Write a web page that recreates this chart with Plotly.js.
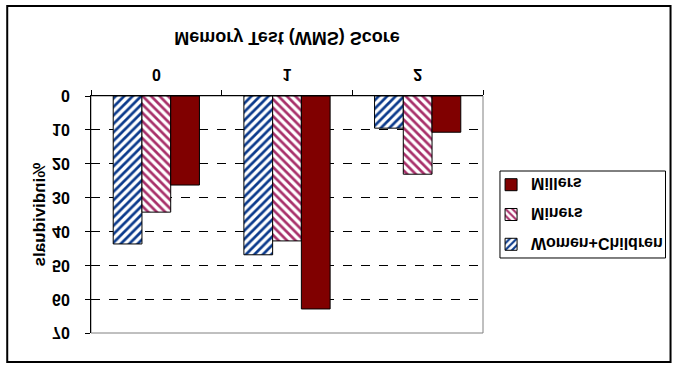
<!DOCTYPE html>
<html>
<head>
<meta charset="utf-8">
<script src="https://cdn.plot.ly/plotly-3.0.1.min.js"></script>
<style>
  html, body { margin: 0; padding: 0; background: #ffffff; }
  #chart { width: 679px; height: 370px; transform: scaleY(-1); transform-origin: 50% 50%; }
</style>
</head>
<body>
<div id="chart"></div>
<script>
// Data
const categories = ["0", "1", "2"];
const womenChildren = [43.7, 46.9, 9.5];
const miners = [34.3, 42.8, 23.1];
const millers = [26.3, 62.9, 10.7];
const seriesNames = ["Women+Children", "Miners", "Millers"];
const yTicks = [0, 10, 20, 30, 40, 50, 60, 70];

const FONT = "'Liberation Sans', Arial, sans-serif";

const traces = [
  {
    type: "bar", name: seriesNames[0], x: categories, y: womenChildren,
    legendgroup: "a",
    marker: {
      color: "#0b3a8c",
      line: { color: "#000000", width: 1 },
      pattern: { shape: "\\", fgcolor: "#0b3a8c", bgcolor: "#ffffff", fgopacity: 1, size: 6, solidity: 0.45, fillmode: "replace" }
    }
  },
  {
    type: "bar", name: seriesNames[1], x: categories, y: miners,
    legendgroup: "b",
    marker: {
      color: "#a8306a",
      line: { color: "#000000", width: 1 },
      pattern: { shape: "/", fgcolor: "#a8306a", bgcolor: "#ffffff", fgopacity: 1, size: 6, solidity: 0.45, fillmode: "replace" }
    }
  },
  {
    type: "bar", name: seriesNames[2], x: categories, y: millers,
    legendgroup: "c",
    marker: { color: "#800000", line: { color: "#000000", width: 1 } }
  }
];

const layout = {
  width: 679, height: 370,
  margin: { l: 91, r: 195, t: 37, b: 96, pad: 0 },
  paper_bgcolor: "#ffffff",
  plot_bgcolor: "#ffffff",
  font: { family: FONT, size: 16, color: "#000000", weight: "bold" },
  barmode: "group",
  bargap: 0.34,
  bargroupgap: 0,
  showlegend: true,
  legend: {
    x: 1.018,
    xanchor: "left",
    y: 0.697,
    yanchor: "top",
    traceorder: "grouped",
    tracegroupgap: 6,
    bgcolor: "rgba(0,0,0,0)",
    borderwidth: 0,
    font: { family: FONT, size: 16, color: "#000000", weight: "bold" }
  },
  xaxis: {
    type: "category",
    showgrid: false,
    zeroline: false,
    showline: true,
    linecolor: "#000000",
    linewidth: 1,
    ticks: "outside",
    tickson: "boundaries",
    ticklen: 5,
    tickcolor: "#000000",
    ticklabelstandoff: 7,
    tickfont: { family: FONT, size: 16, color: "#000000", weight: "bold" },
    title: { text: "Memory Test (WMS) Score", standoff: 22, font: { family: FONT, size: 18, color: "#000000", weight: "bold" } }
  },
  yaxis: {
    range: [0, 70],
    tickvals: yTicks,
    showgrid: true,
    gridcolor: "#000000",
    griddash: "dash",
    gridwidth: 1,
    zeroline: false,
    showline: true,
    linecolor: "#000000",
    linewidth: 1,
    ticks: "outside",
    ticklen: 5,
    tickcolor: "#000000",
    ticklabelstandoff: 12,
    tickfont: { family: FONT, size: 16, color: "#000000", weight: "bold" },
    title: { text: "%individuals", standoff: 2, font: { family: FONT, size: 17, color: "#000000", weight: "bold" } }
  },
  shapes: [
    { type: "rect", xref: "paper", yref: "paper", x0: 0, x1: 1, y0: 0, y1: 1,
      line: { color: "#808080", width: 1 }, layer: "below" },
    { type: "rect", xref: "paper", yref: "paper", x0: 1.0433, x1: 1.4656, y0: 0.3165, y1: 0.6835,
      line: { color: "#000000", width: 1 }, fillcolor: "rgba(0,0,0,0)" },
    { type: "rect", xref: "paper", yref: "paper", x0: -0.2137, x1: 1.4784, y0: -0.3797, y1: 1.1224,
      line: { color: "#000000", width: 2 }, fillcolor: "rgba(0,0,0,0)" }
  ]
};

Plotly.newPlot("chart", traces, layout, { staticPlot: true, displayModeBar: false });
</script>
</body>
</html>
